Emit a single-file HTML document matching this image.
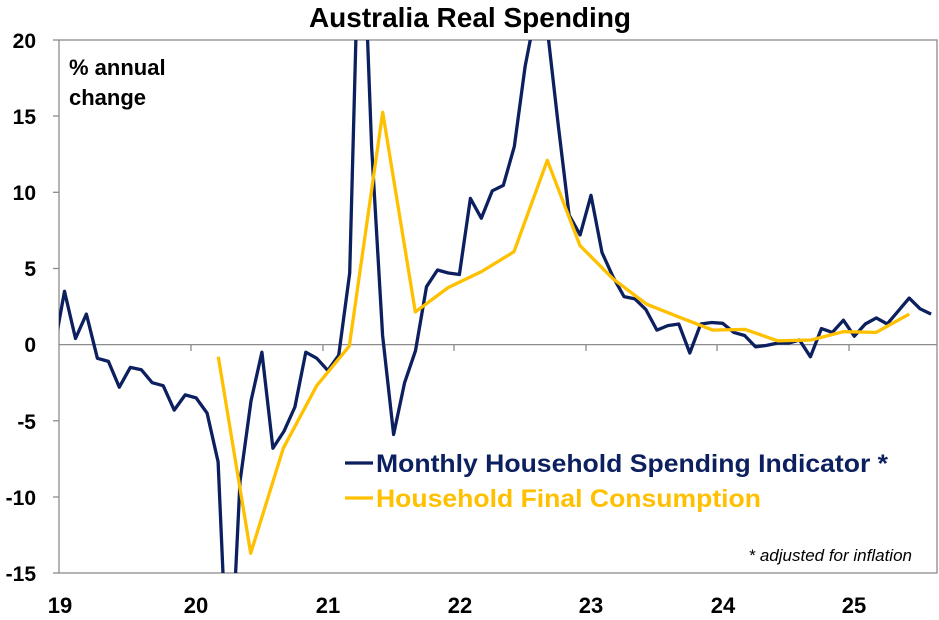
<!DOCTYPE html>
<html><head><meta charset="utf-8"><style>
html,body{margin:0;padding:0;background:#fff;width:939px;height:620px;overflow:hidden;}
svg{display:block;font-family:"Liberation Sans",Arial,sans-serif;}
</style></head><body>
<svg id="s" width="939" height="620" viewBox="0 0 939 620" xmlns="http://www.w3.org/2000/svg">
<defs><clipPath id="c"><rect x="59" y="40" width="878" height="533"/></clipPath></defs>
<rect width="939" height="620" fill="#fff"/>
<text x="470" y="27" text-anchor="middle" font-size="28" font-weight="bold" fill="#000">Australia Real Spending</text>
<rect x="59" y="40" width="878" height="533" fill="none" stroke="#8c8c8c" stroke-width="1.3"/>
<line x1="59" y1="344.6" x2="937" y2="344.6" stroke="#8c8c8c" stroke-width="1.3"/>
<g stroke="#8c8c8c" stroke-width="1.3">
<line x1="191" y1="344.6" x2="191" y2="351"/><line x1="323" y1="344.6" x2="323" y2="351"/>
<line x1="454" y1="344.6" x2="454" y2="351"/><line x1="586" y1="344.6" x2="586" y2="351"/>
<line x1="717" y1="344.6" x2="717" y2="351"/><line x1="849" y1="344.6" x2="849" y2="351"/>
<line x1="59" y1="40" x2="53" y2="40"/><line x1="59" y1="116" x2="53" y2="116"/><line x1="59" y1="192.3" x2="53" y2="192.3"/><line x1="59" y1="268.5" x2="53" y2="268.5"/><line x1="59" y1="420.8" x2="53" y2="420.8"/><line x1="59" y1="497" x2="53" y2="497"/><line x1="59" y1="573" x2="53" y2="573"/>
</g>
<g font-size="21" font-weight="bold" fill="#000" text-anchor="end">
<text x="36" y="48">20</text><text x="36" y="124">15</text><text x="36" y="200">10</text><text x="36" y="276">5</text><text x="36" y="352">0</text><text x="36" y="429">-5</text><text x="36" y="505">-10</text><text x="36" y="581">-15</text>
</g>
<g font-size="22" font-weight="bold" fill="#000" text-anchor="middle">
<text x="60" y="613">19</text><text x="196" y="613">20</text><text x="328" y="613">21</text><text x="460" y="613">22</text><text x="591" y="613">23</text><text x="723" y="613">24</text><text x="854" y="613">25</text>
</g>
<text x="69" y="75" font-size="22" font-weight="bold" fill="#000">% annual</text>
<text x="69" y="105" font-size="22" font-weight="bold" fill="#000">change</text>
<g clip-path="url(#c)" fill="none" stroke-width="3.3" stroke-linejoin="round">
<polyline id="b" stroke="#0c1f5f" points=""/>
<polyline id="o" stroke="#ffc000" points=""/>
</g>
<line x1="345" y1="463" x2="373" y2="463" stroke="#0c1f5f" stroke-width="3.3"/>
<line x1="345" y1="498" x2="373" y2="498" stroke="#ffc000" stroke-width="3.3"/>
<text x="376" y="472" font-size="25" font-weight="bold" fill="#0c1f5f" textLength="512" lengthAdjust="spacingAndGlyphs">Monthly Household Spending Indicator *</text>
<text x="376" y="507" font-size="25" font-weight="bold" fill="#ffc000" textLength="385" lengthAdjust="spacingAndGlyphs">Household Final Consumption</text>
<text x="912" y="561" font-size="17" font-style="italic" fill="#000" text-anchor="end">* adjusted for inflation</text>
</svg>
<script>
var Y=function(v){return (344.6-15.23*v).toFixed(1);};
var bv=[-0.5,3.5,0.4,2.0,-0.9,-1.1,-2.8,-1.5,-1.65,-2.5,-2.7,-4.3,-3.3,-3.5,-4.5,-7.7,-24,-9,-3.7,-0.5,-6.8,-5.7,-4.1,-0.5,-0.9,-1.7,-0.7,4.7,32,13,0.6,-5.9,-2.5,-0.4,3.8,4.9,4.7,4.6,9.6,8.3,10.1,10.45,13.0,18.3,22,20.8,14.5,8.5,7.2,9.8,6.05,4.45,3.15,3.0,2.3,0.95,1.25,1.35,-0.55,1.35,1.45,1.4,0.8,0.6,-0.15,-0.05,0.1,0.1,0.3,-0.8,1.05,0.8,1.6,0.55,1.35,1.75,1.35,2.2,3.05,2.35,2.0];
var p=[];for(var i=0;i<bv.length;i++){var k=i-1;p.push((59+10.97*(k+0.5)).toFixed(1)+","+Y(bv[i]));}
document.getElementById("b").setAttribute("points",p.join(" "));
var ov=[[218.3,-0.8],[250.7,-13.7],[283.3,-6.8],[316.7,-2.7],[349.3,-0.1],[382.7,15.25],[415.3,2.15],[448.3,3.75],[481.7,4.8],[514,6.1],[547.3,12.1],[580,6.5],[613.3,4.3],[646.7,2.65],[679.3,1.8],[712.7,0.95],[745,1.0],[777.7,0.25],[811,0.3],[843.3,0.85],[876,0.8],[909.3,2.0]];
document.getElementById("o").setAttribute("points",ov.map(function(a){return a[0]+","+Y(a[1]);}).join(" "));
</script>
</body></html>
